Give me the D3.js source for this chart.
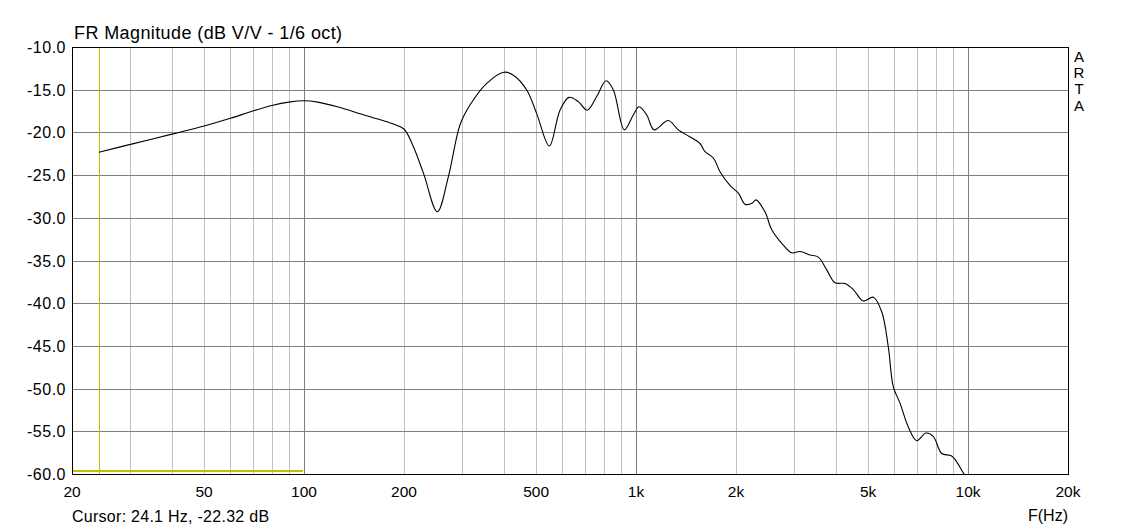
<!DOCTYPE html>
<html>
<head>
<meta charset="utf-8">
<script src="https://d3js.org/d3.v7.min.js"></script>
<style>
body { margin: 0; background: #fff; }
text { font-family: "Liberation Sans", Arial, sans-serif; fill: #000; }
</style>
</head>
<body>
<div id="vis"></div>
<script>
// measured response, 1/6 oct smoothing
var freqs = [24.1, 30, 40, 50, 60, 70, 80, 90, 100, 110, 126, 150, 169, 185, 200, 213, 229, 252, 272, 295, 316, 355, 400, 427, 468, 502, 548, 590, 628, 670, 713, 761, 812, 854, 922, 981, 1021, 1077, 1133, 1250, 1340, 1450, 1558, 1613, 1709, 1790, 1918, 2033, 2129, 2236, 2297, 2445, 2563, 2777, 2943, 3118, 3342, 3540, 3752, 3974, 4260, 4512, 4837, 5184, 5494, 5751, 5955, 6238, 6607, 7004, 7468, 7859, 8328, 8926, 9672, 9900];
var dbs = [-22.32, -21.4, -20.2, -19.25, -18.35, -17.5, -16.85, -16.45, -16.3, -16.45, -17.0, -17.9, -18.5, -19.0, -19.6, -21.6, -24.8, -29.3, -25.2, -19.1, -16.8, -14.25, -12.95, -13.3, -15.0, -17.8, -21.6, -17.4, -15.9, -16.4, -17.4, -15.8, -13.95, -15.0, -19.7, -17.96, -17.0, -17.96, -19.7, -18.6, -19.7, -20.5, -21.3, -22.26, -23.0, -24.6, -26.2, -27.1, -28.4, -28.3, -27.9, -29.3, -31.4, -33.2, -34.1, -33.95, -34.35, -34.6, -36.1, -37.6, -37.7, -38.4, -39.75, -39.3, -41.0, -45.1, -49.8, -51.7, -54.5, -56.1, -55.2, -55.6, -57.6, -57.9, -59.85, -60.5];

var yTicks = [-10, -15, -20, -25, -30, -35, -40, -45, -50, -55, -60];
var yTickLabels = ["-10.0", "-15.0", "-20.0", "-25.0", "-30.0", "-35.0", "-40.0", "-45.0", "-50.0", "-55.0", "-60.0"];
var xTicks = [20, 50, 100, 200, 500, 1000, 2000, 5000, 10000, 20000];
var xTickLabels = ["20", "50", "100", "200", "500", "1k", "2k", "5k", "10k", "20k"];
var majorGrid = [100, 1000, 10000];
var minorGrid = [30, 40, 50, 60, 70, 80, 90, 200, 300, 400, 500, 600, 700, 800, 900, 2000, 3000, 4000, 5000, 6000, 7000, 8000, 9000];

var cursorFreq = 24.1;
var cursorText = "Cursor: 24.1 Hz, -22.32 dB";

var pLeft = 72, pRight = 1068, pTop = 47, pBottom = 474;

var x = d3.scaleLog().domain([20, 20000]).range([pLeft, pRight]);
var y = d3.scaleLinear().domain([-10, -60]).range([pTop, pBottom]);

var svg = d3.select("#vis")
.append("svg")
.attr("width", 1140)
.attr("height", 531);

svg.append("defs")
.append("clipPath")
.attr("id", "plot")
.append("rect")
.attr("x", pLeft)
.attr("y", pTop)
.attr("width", pRight - pLeft)
.attr("height", pBottom - pTop);

svg.append("g")
.selectAll("line")
.data(minorGrid)
.join("line")
.attr("x1", d => Math.round(x(d)) + 0.5)
.attr("x2", d => Math.round(x(d)) + 0.5)
.attr("y1", pTop)
.attr("y2", pBottom)
.attr("stroke", "#c0c0c0")
.attr("stroke-width", 1);

svg.append("g")
.selectAll("line")
.data(yTicks.slice(1, -1))
.join("line")
.attr("x1", pLeft)
.attr("x2", pRight)
.attr("y1", d => Math.round(y(d)) + 0.5)
.attr("y2", d => Math.round(y(d)) + 0.5)
.attr("stroke", "#808080")
.attr("stroke-width", 1);

svg.append("g")
.selectAll("line")
.data(majorGrid)
.join("line")
.attr("x1", d => Math.round(x(d)) + 0.5)
.attr("x2", d => Math.round(x(d)) + 0.5)
.attr("y1", pTop)
.attr("y2", pBottom)
.attr("stroke", "#808080")
.attr("stroke-width", 1);

// cursor markers
svg.append("line")
.attr("x1", Math.round(x(cursorFreq)) + 0.5)
.attr("x2", Math.round(x(cursorFreq)) + 0.5)
.attr("y1", pTop)
.attr("y2", pBottom)
.attr("stroke", "#c0c000")
.attr("stroke-width", 1);

svg.append("line")
.attr("x1", pLeft)
.attr("x2", x(100) - 1)
.attr("y1", pBottom - 3)
.attr("y2", pBottom - 3)
.attr("stroke", "#c0c000")
.attr("stroke-width", 2);

var line = d3.line()
.x((d, i) => x(freqs[i]))
.y(d => y(d))
.curve(d3.curveCatmullRom.alpha(0.5));

svg.append("path")
.datum(dbs)
.attr("clip-path", "url(#plot)")
.attr("d", line)
.attr("fill", "none")
.attr("stroke", "#000")
.attr("stroke-width", 1.1);

svg.append("rect")
.attr("x", pLeft + 0.5)
.attr("y", pTop + 0.5)
.attr("width", pRight - pLeft)
.attr("height", pBottom - pTop)
.attr("fill", "none")
.attr("stroke", "#000")
.attr("stroke-width", 1);

svg.append("g")
.selectAll("text")
.data(yTicks)
.join("text")
.attr("x", 66)
.attr("y", d => y(d) + 6)
.attr("text-anchor", "end")
.style("font-size", "16px")
.style("letter-spacing", "0.5px")
.text((d, i) => yTickLabels[i]);

svg.append("g")
.selectAll("text")
.data(xTicks)
.join("text")
.attr("x", d => x(d))
.attr("y", 497)
.attr("text-anchor", "middle")
.style("font-size", "15.5px")
.text((d, i) => xTickLabels[i]);

svg.append("text")
.attr("x", 74)
.attr("y", 39)
.style("font-size", "18px")
.style("letter-spacing", "0.4px")
.text("FR Magnitude (dB V/V - 1/6 oct)");

svg.append("text")
.attr("x", 72)
.attr("y", 522)
.style("font-size", "16px")
.style("letter-spacing", "0.27px")
.text(cursorText);

svg.append("text")
.attr("x", 1068)
.attr("y", 521)
.attr("text-anchor", "end")
.style("font-size", "16px")
.text("F(Hz)");

svg.append("g")
.selectAll("text")
.data(["A", "R", "T", "A"])
.join("text")
.attr("x", 1079)
.attr("y", (d, i) => 62 + i * 16.2)
.attr("text-anchor", "middle")
.style("font-size", "15px")
.text(d => d);
</script>
</body>
</html>
